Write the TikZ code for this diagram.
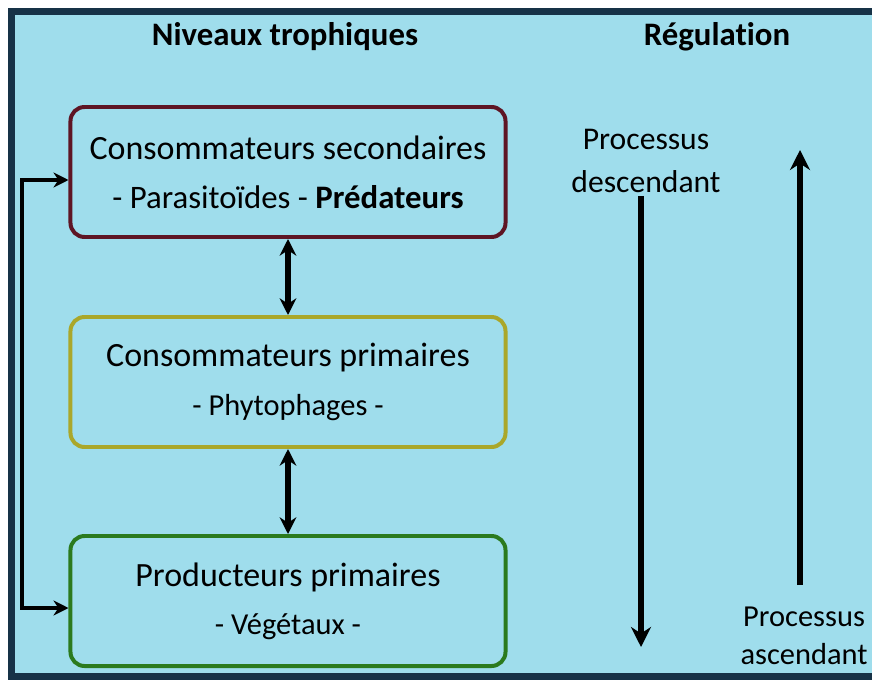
\documentclass[tikz,border=0pt]{standalone}
\usepackage{fontspec}
\setmainfont[Ligatures=NoCommon]{Carlito}
\usepackage{tikz}
\usetikzlibrary{arrows.meta, positioning}
\definecolor{bgblue}{HTML}{9FDDEC}
\definecolor{framenavy}{HTML}{173247}
\definecolor{secred}{HTML}{5E1524}
\definecolor{primolive}{HTML}{AAA72A}
\definecolor{prodgreen}{HTML}{2B7A1E}

\begin{document}
\begin{tikzpicture}[
    x=0.03cm, y=-0.03cm,
    every node/.style={font=\fontsize{27}{33}\selectfont, text=black},
    level/.style={rectangle, rounded corners=12pt, draw, line width=3.4pt,
                  minimum width=13.05cm, minimum height=3.9cm, align=center},
    head/.style={font=\fontsize{28}{32}\selectfont\bfseries},
    link/.style={line width=4.5pt, {Stealth[length=5mm, width=5mm]}-{Stealth[length=5mm, width=5mm]}},
    flow/.style={line width=5pt, -{Stealth[length=6mm, width=6mm]}},
]
\useasboundingbox (0, 0) rectangle (872, 680);
\fill[white] (0, 0) rectangle (872, 680);
\draw[framenavy, line width=6pt, fill=bgblue] (11.5, 11.5) rectangle (890, 676.5);

% titres des colonnes
\node[head] (titleniv) at (285, 37) {Niveaux trophiques};
\node[head] (titlereg) at (717, 37) {Régulation};

% niveaux trophiques
\node[level, draw=secred] (conssec) at (288, 172)
    {\fontsize{29}{33}\selectfont Consommateurs secondaires\\[9pt]
     {\fontsize{28}{33}\selectfont - Parasitoïdes - {\bfseries Prédateurs}}};
\node[level, draw=primolive] (consprim) at (288, 382)
    {\fontsize{29}{33}\selectfont Consommateurs primaires\\[9pt]
     {\fontsize{26}{30}\selectfont - Phytophages -}};
\node[level, draw=prodgreen] (prodprim) at (288, 601)
    {\fontsize{29}{33}\selectfont Producteurs primaires\\[8pt]
     {\fontsize{26}{30}\selectfont - Végétaux -}};

\draw[link] (conssec) -- (consprim);
\draw[link] (consprim) -- (prodprim);

% retour des producteurs vers les consommateurs secondaires
\coordinate (fbtop) at (22, 180);
\coordinate (fbbot) at (22, 608);
\draw[line width=4pt, -{Stealth[length=4.5mm, width=4.5mm]}]
    (fbtop) -- (fbtop -| conssec.west);
\draw[line width=4pt, -{Stealth[length=4.5mm, width=4.5mm]}]
    (fbbot) -- (fbbot -| prodprim.west);
\draw[line width=4pt, line cap=rect] (fbtop) -- (fbbot);

% regulation
\node[align=center] (desc) at (646, 161) {Processus\\[3pt]descendant};
\coordinate (descstart) at (641, 196);
\coordinate (descend) at (641, 647);
\draw[flow] (descstart) -- (descend);

\node[align=center, anchor=east, inner sep=1pt,
      font=\fontsize{26}{30}\selectfont] (asc) at (869, 636)
    {Processus\\[2pt]ascendant};
\coordinate (ascstart) at (800, 585);
\coordinate (ascend) at (800, 150);
\draw[flow] (ascstart) -- (ascend);

\end{tikzpicture}
\end{document}
